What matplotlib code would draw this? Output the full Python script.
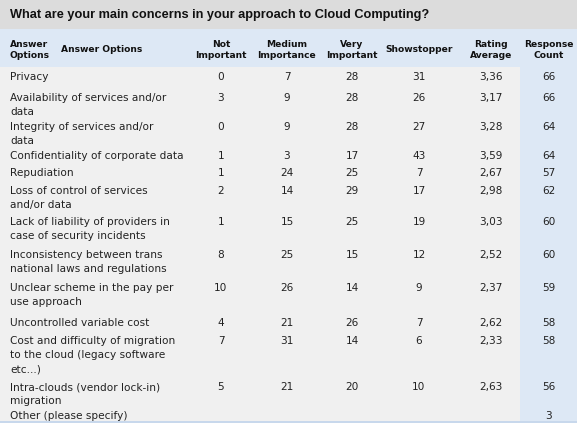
import matplotlib
matplotlib.use('Agg')
import matplotlib.pyplot as plt
from matplotlib.patches import Rectangle

title = 'What are your main concerns in your approach to Cloud Computing?'
columns = ['Not\nImportant', 'Medium\nImportance', 'Very\nImportant', 'Showstopper',
           'Rating\nAverage', 'Response\nCount']
options = ['Privacy',
           'Availability of services and/or\ndata',
           'Integrity of services and/or\ndata',
           'Confidentiality of corporate data',
           'Repudiation',
           'Loss of control of services\nand/or data',
           'Lack of liability of providers in\ncase of security incidents',
           'Inconsistency between trans\nnational laws and regulations',
           'Unclear scheme in the pay per\nuse approach',
           'Uncontrolled variable cost',
           'Cost and difficulty of migration\nto the cloud (legacy software\netc...)',
           'Intra-clouds (vendor lock-in)\nmigration',
           'Other (please specify)']
not_important = [0, 3, 0, 1, 1, 2, 1, 8, 10, 4, 7, 5, None]
medium = [7, 9, 9, 3, 24, 14, 15, 25, 26, 21, 31, 21, None]
very = [28, 28, 28, 17, 25, 29, 25, 15, 14, 26, 14, 20, None]
showstopper = [31, 26, 27, 43, 7, 17, 19, 12, 9, 7, 6, 10, None]
rating = ['3,36', '3,17', '3,28', '3,59', '2,67', '2,98', '3,03', '2,52', '2,37',
          '2,62', '2,33', '2,63', None]
response = [66, 66, 64, 64, 57, 62, 60, 60, 59, 58, 58, 56, 3]

# layout (pixels, from top-left)
W, H = 577, 424
row_y = [77, 98, 127, 156, 173, 191, 222, 255, 288, 323, 341, 387, 416]
col_x = [221, 287, 352, 419, 491, 549]
line_h = 14.3

fig = plt.figure(figsize=(W / 100, H / 100), dpi=100)
ax = fig.add_axes([0, 0, 1, 1])
ax.set_xlim(0, W)
ax.set_ylim(H, 0)
ax.axis('off')

gray_bar = '#dcdcdc'
blue = '#dde8f5'
body = '#f0f0f0'
ax.add_patch(Rectangle((0, 0), W, 29, color=gray_bar, lw=0))
ax.add_patch(Rectangle((0, 29), W, 38, color=blue, lw=0))
ax.add_patch(Rectangle((0, 67), 520, 354, color=body, lw=0))
ax.add_patch(Rectangle((520, 67), W - 520, 354, color=blue, lw=0))
ax.add_patch(Rectangle((0, 421), W, 2, color='#c8d8ec', lw=0))

fs = 7.6
t = ax.text(10, 15, title, fontsize=9.5, fontweight='bold', va='center', ha='left',
            color='#111111', family='Liberation Sans')
# squeeze title to the width it has in the reference
fig.canvas.draw()
w = t.get_window_extent().width
t.set_fontsize(9.5 * 418 / w)

hfs = 6.6
ax.text(10, 50, 'Answer\nOptions', fontsize=hfs, fontweight='bold', va='center', ha='left',
        linespacing=1.2, color='#111111')
ax.text(61, 50, 'Answer Options', fontsize=hfs, fontweight='bold', va='center', ha='left',
        color='#111111')
for x, c in zip(col_x, columns):
    ax.text(x, 50, c, fontsize=hfs, fontweight='bold', va='center', ha='center',
            linespacing=1.2, color='#111111')

for i, opt in enumerate(options):
    y = row_y[i]
    for k, line in enumerate(opt.split('\n')):
        ax.text(10, y + k * line_h, line, fontsize=fs, va='center', ha='left', color='#222222')
    vals = [not_important[i], medium[i], very[i], showstopper[i], rating[i], response[i]]
    for x, v in zip(col_x, vals):
        if v is not None:
            ax.text(x, y, str(v), fontsize=fs, va='center', ha='center', color='#222222')

fig.savefig('out.png', dpi=100)
